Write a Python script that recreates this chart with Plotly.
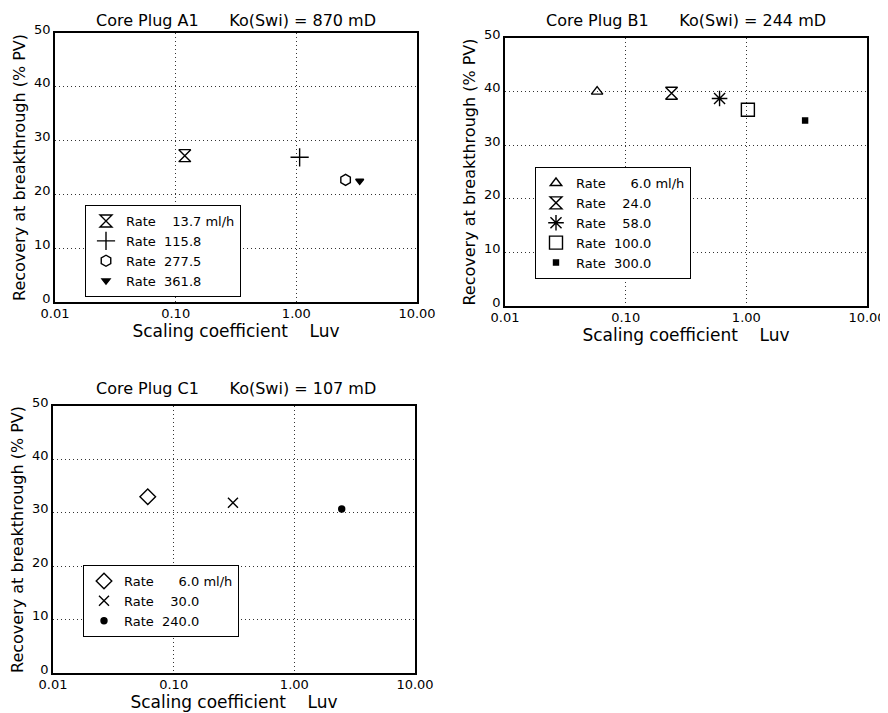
import plotly.graph_objects as go

NB = "\u00a0"

# ---- data ----
plug_names = ["A1", "B1", "C1"]
ko_values = [870, 244, 107]

a1_rate = [13.7, 115.8, 277.5, 361.8]
a1_luv = [0.119, 1.065, 2.56, 3.35]
a1_rec = [27.2, 26.9, 22.7, 22.5]

b1_rate = [6.0, 24.0, 58.0, 100.0, 300.0]
b1_luv = [0.058, 0.24, 0.60, 1.03, 3.07]
b1_rec = [40.0, 39.7, 38.7, 36.6, 34.6]

c1_rate = [6.0, 30.0, 240.0]
c1_luv = [0.061, 0.31, 2.47]
c1_rec = [33.0, 31.9, 30.7]

x_tickvals = [0.01, 0.1, 1, 10]
x_ticktext = ["0.01", "0.10", "1.00", "10.00"]
y_tickvals = [0, 10, 20, 30, 40, 50]
y_ticktext = ["0", "10", "20", "30", "40", "50"]

# ---- styles ----
a1_sym = ["hourglass-open", "cross-thin-open", "hexagon-open", "triangle-down"]
a1_size = [12, 13, 11, 7]
b1_sym = ["triangle-up-open", "hourglass-open", "asterisk-open", "square-open", "square"]
b1_size = [10, 12, 13, 13, 5]
c1_sym = ["diamond-open", "x-thin-open", "circle"]
c1_size = [12, 10, 6]

FONT = "DejaVu Sans"


def rate_label(r, first):
    s = f"{r:.1f}"
    gap = 2 + 2 * (5 - len(s))
    lab = "Rate" + NB * gap + s
    if first:
        lab += NB + "ml/h"
    return lab


fig = go.Figure()

panels = [
    (a1_rate, a1_luv, a1_rec, a1_sym, a1_size, "x", "y", "legend"),
    (b1_rate, b1_luv, b1_rec, b1_sym, b1_size, "x2", "y2", "legend2"),
    (c1_rate, c1_luv, c1_rec, c1_sym, c1_size, "x3", "y3", "legend3"),
]

for rates, luv, rec, syms, sizes, xa, ya, lg in panels:
    for i, r in enumerate(rates):
        fig.add_trace(go.Scatter(
            x=[luv[i]], y=[rec[i]], mode="markers",
            name=rate_label(r, i == 0),
            xaxis=xa, yaxis=ya, legend=lg,
            marker=dict(symbol=syms[i], size=sizes[i], color="black",
                        line=dict(color="black", width=1.4)),
        ))

# page has an 8px body margin; figure is sized to fill the rest
OFF = 8
W, H = 888 - OFF, 713 - OFF


def px(p):
    return (p - OFF) / W


def py(p):
    return 1 - (p - OFF) / H


doms = [
    ((55, 417), (33, 302)),
    ((505, 867), (38, 306)),
    ((53, 415), (406, 673)),
]

axis_common = dict(
    showline=True, mirror=True, linecolor="black", linewidth=1.5,
    showgrid=True, gridcolor="#333", griddash="1px,3px", gridwidth=1,
    ticks="", zeroline=False, automargin=False,
    tickfont=dict(family=FONT, size=13, color="black"),
)

layout = dict(
    width=W, height=H, margin=dict(l=0, r=0, t=0, b=0, pad=0, autoexpand=False),
    paper_bgcolor="white", plot_bgcolor="white",
    font=dict(family=FONT, color="black"),
)

for k, ((x0, x1), (y0, y1)) in enumerate(doms):
    sx = "" if k == 0 else str(k + 1)
    layout["xaxis" + sx] = dict(
        axis_common, type="log", range=[-2, 1],
        domain=[px(x0), px(x1)],
        tickvals=x_tickvals, ticktext=x_ticktext,
        anchor="y" + sx, ticklabelstandoff=-1,
        title=dict(text="Scaling coefficient" + NB * 4 + "Luv",
                   font=dict(family=FONT, size=17), standoff=0),
    )
    layout["yaxis" + sx] = dict(
        axis_common, range=[0, 50],
        domain=[py(y1), py(y0)],
        tickvals=y_tickvals, ticktext=y_ticktext,
        anchor="x" + sx, ticklabelshift=-4,
        title=dict(text="Recovery at breakthrough (% PV)",
                   font=dict(family=FONT, size=16), standoff=5),
    )

legend_pos = [(85, 205), (535, 167), (83, 565)]
for k, (lx, ly) in enumerate(legend_pos):
    name = "legend" if k == 0 else f"legend{k + 1}"
    layout[name] = dict(
        x=px(lx), y=py(ly), xanchor="left", yanchor="top",
        bgcolor="white", bordercolor="black", borderwidth=1,
        font=dict(family=FONT, size=13, color="black"),
        tracegroupgap=0,
    )

fig.update_layout(**layout)

title_pos = [(236, 20), (686, 20), (236, 388)]
for k, (tx, ty) in enumerate(title_pos):
    fig.add_annotation(
        x=px(tx), y=py(ty), xref="paper", yref="paper",
        xanchor="center", yanchor="middle", showarrow=False,
        text=f"Core Plug {plug_names[k]}" + NB * 6 + f"Ko(Swi) = {ko_values[k]} mD",
        font=dict(family=FONT, size=16, color="black"),
    )

fig.write_html("out.html")
